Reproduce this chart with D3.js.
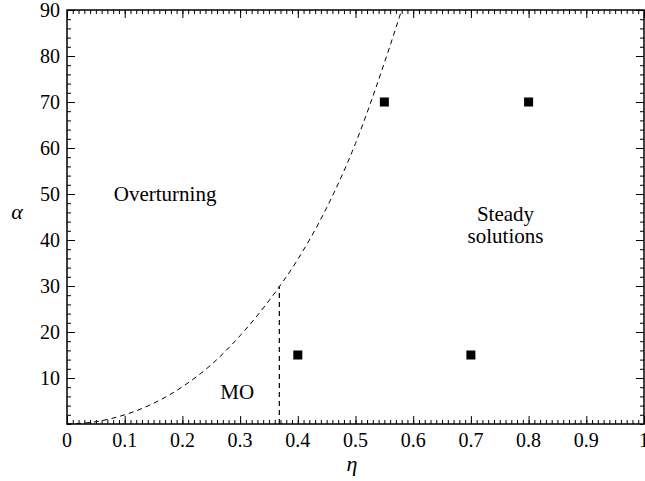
<!DOCTYPE html>
<html><head><meta charset="utf-8">
<script src="https://cdn.jsdelivr.net/npm/d3@7"></script>
<style>
body{margin:0;background:#fff}
svg{display:block}
svg text.lbl{font-family:'Liberation Serif','Times New Roman',Tinos,serif !important}
</style>
</head><body>
<script>
// Data
const boundaryEta   = [0, 0.05, 0.1, 0.15, 0.2, 0.25, 0.3, 0.35, 0.4, 0.45, 0.5, 0.55, 0.58];
const boundaryAlpha = [0, 0.5, 2, 4.5, 8.1, 12.9, 19.2, 26.8, 35.8, 47, 61, 78.5, 90];
const moEta = 0.368, moAlpha = 30;
const pointEta   = [0.55, 0.8, 0.4, 0.7];
const pointAlpha = [70, 70, 15, 15];
const xTicks = [0, 0.1, 0.2, 0.3, 0.4, 0.5, 0.6, 0.7, 0.8, 0.9, 1];
const xTickLabels = ["0", "0.1", "0.2", "0.3", "0.4", "0.5", "0.6", "0.7", "0.8", "0.9", "1"];
const yTicks = [10, 20, 30, 40, 50, 60, 70, 80, 90];
const regionLabels = [
  {text: ["Overturning"], eta: 0.17, alpha: 50},
  {text: ["Steady", "solutions"], eta: 0.76, alpha: 45},
  {text: ["MO"], eta: 0.295, alpha: 7}
];

const W = 645, H = 481;
const svg = d3.select("body").append("svg").attr("width", W).attr("height", H);
const x = d3.scaleLinear().domain([0, 1]).range([67, 644]);
const y = d3.scaleLinear().domain([0, 90]).range([424, 10]);
const fs = 20;

function label(sel) { return sel.attr("class", "lbl").style("font-family", "'Liberation Serif'"); }

svg.selectAll("text.xt").data(xTicks).join("text")
  .call(label)
  .attr("x", d => x(d)).attr("y", 447).attr("text-anchor", "middle").attr("font-size", fs)
  .text((d, i) => xTickLabels[i]);
svg.selectAll("text.yt").data(yTicks).join("text")
  .call(label)
  .attr("x", 60).attr("y", d => y(d) + 7).attr("text-anchor", "end").attr("font-size", fs)
  .text(d => d);

svg.append("text").call(label).attr("x", 352).attr("y", 471).attr("text-anchor", "middle")
  .attr("font-size", 22).attr("font-style", "italic").text("η");
svg.append("text").call(label).attr("x", 17).attr("y", 219).attr("text-anchor", "middle")
  .attr("font-size", 22).attr("font-style", "italic").text("α");

regionLabels.forEach(r => {
  r.text.forEach((s, i) => {
    const dy = r.text.length > 1 ? 4 + i * 22 : 7;
    svg.append("text").call(label).attr("x", x(r.eta)).attr("y", y(r.alpha) + dy)
      .attr("text-anchor", "middle").attr("font-size", 21).text(s);
  });
});

const xMinor = d3.range(0, 101).map(d => d / 100);
const yMinor = d3.range(0, 46).map(d => d * 2);

// bottom axis (ticks inward)
const gB = svg.append("g").attr("transform", `translate(0,${y(0)})`);
gB.call(d3.axisTop(x).tickValues(xMinor).tickSize(4).tickFormat(""));
gB.append("g").call(d3.axisTop(x).tickValues(xTicks).tickSize(8).tickFormat(""));
// top axis
const gT = svg.append("g").attr("transform", `translate(0,${y(90)})`);
gT.call(d3.axisBottom(x).tickValues(xMinor).tickSize(4).tickFormat(""));
gT.append("g").call(d3.axisBottom(x).tickValues(xTicks).tickSize(8).tickFormat(""));
// left axis
const gL = svg.append("g").attr("transform", `translate(${x(0)},0)`);
gL.call(d3.axisRight(y).tickValues(yMinor).tickSize(4).tickFormat(""));
gL.append("g").call(d3.axisRight(y).tickValues(yTicks).tickSize(8).tickFormat(""));
// right axis
const gR = svg.append("g").attr("transform", `translate(${x(1)},0)`);
gR.call(d3.axisLeft(y).tickValues(yMinor).tickSize(4).tickFormat(""));
gR.append("g").call(d3.axisLeft(y).tickValues(yTicks).tickSize(8).tickFormat(""));

svg.selectAll(".domain").remove();
svg.selectAll(".tick text").remove();
svg.selectAll(".tick line").attr("stroke", "#000").attr("stroke-width", 1);

// frame
svg.append("rect").attr("x", x(0)).attr("y", y(90)).attr("width", x(1) - x(0)).attr("height", y(0) - y(90))
  .attr("fill", "none").attr("stroke", "#000").attr("stroke-width", 1.5);

// boundary curve
const line = d3.line().x(d => x(d[0])).y(d => y(d[1])).curve(d3.curveMonotoneX);
svg.append("path").datum(boundaryEta.map((e, i) => [e, boundaryAlpha[i]]))
  .attr("d", line).attr("fill", "none").attr("stroke", "#000").attr("stroke-width", 1)
  .attr("stroke-dasharray", "5,4");
svg.append("line").attr("x1", x(moEta)).attr("x2", x(moEta)).attr("y1", y(0)).attr("y2", y(moAlpha))
  .attr("stroke", "#000").attr("stroke-width", 1.2).attr("stroke-dasharray", "5,4");

// points
const sz = 9;
svg.append("g").selectAll("rect").data(pointEta).join("rect")
  .attr("x", d => x(d) - sz / 2).attr("y", (d, i) => y(pointAlpha[i]) - sz / 2)
  .attr("width", sz).attr("height", sz).attr("fill", "#000");
</script>
</body></html>
